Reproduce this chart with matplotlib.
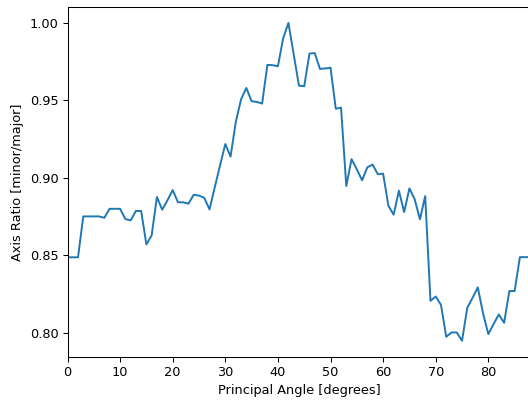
import numpy as np
from matplotlib import pyplot as plt

# axis ratio sampled once per degree of principal angle
angles = np.arange(0, 89)
ratios = [
    0.8487, 0.8487, 0.8487, 0.8751, 0.8751, 0.8751, 0.8751, 0.8742, 0.8800, 0.8800,
    0.8800, 0.8734, 0.8725, 0.8786, 0.8786, 0.8570, 0.8629, 0.8876, 0.8794, 0.8855,
    0.8921, 0.8842, 0.8842, 0.8833, 0.8891, 0.8885, 0.8871, 0.8796, 0.8940, 0.9080,
    0.9218, 0.9137, 0.9362, 0.9507, 0.9580, 0.9494, 0.9490, 0.9479, 0.9729, 0.9727,
    0.9720, 0.9901, 1.0000, 0.9797, 0.9595, 0.9591, 0.9802, 0.9805, 0.9703, 0.9706,
    0.9711, 0.9446, 0.9453, 0.8947, 0.9121, 0.9055, 0.8984, 0.9068, 0.9085, 0.9023,
    0.9027, 0.8820, 0.8762, 0.8917, 0.8779, 0.8932, 0.8861, 0.8732, 0.8882, 0.8206,
    0.8234, 0.8180, 0.7974, 0.8002, 0.8002, 0.7948, 0.8161, 0.8225, 0.8293, 0.8125,
    0.7991, 0.8056, 0.8118, 0.8064, 0.8269, 0.8269, 0.8488, 0.8488, 0.8488,
]

# the reference looks like a default figure rendered at ~93 dpi
dpi = 93
W, H = 528, 401
fig = plt.figure(figsize=(W / dpi, H / dpi), dpi=dpi)
ax = fig.add_axes([67.5 / W, (H - 356.7) / H, (530.4 - 67.5) / W, (356.7 - 7) / H])

ax.plot(angles, ratios, c='tab:blue', lw=1.5)

ax.set_xlim(0, 88)
ax.set_xticks(range(0, 90, 10))
ax.set_yticks([0.80, 0.85, 0.90, 0.95, 1.00])
ax.set_xlabel('Principal Angle [degrees]')
ax.set_ylabel('Axis Ratio [minor/major]')

fig.savefig('out.png', dpi=dpi)
